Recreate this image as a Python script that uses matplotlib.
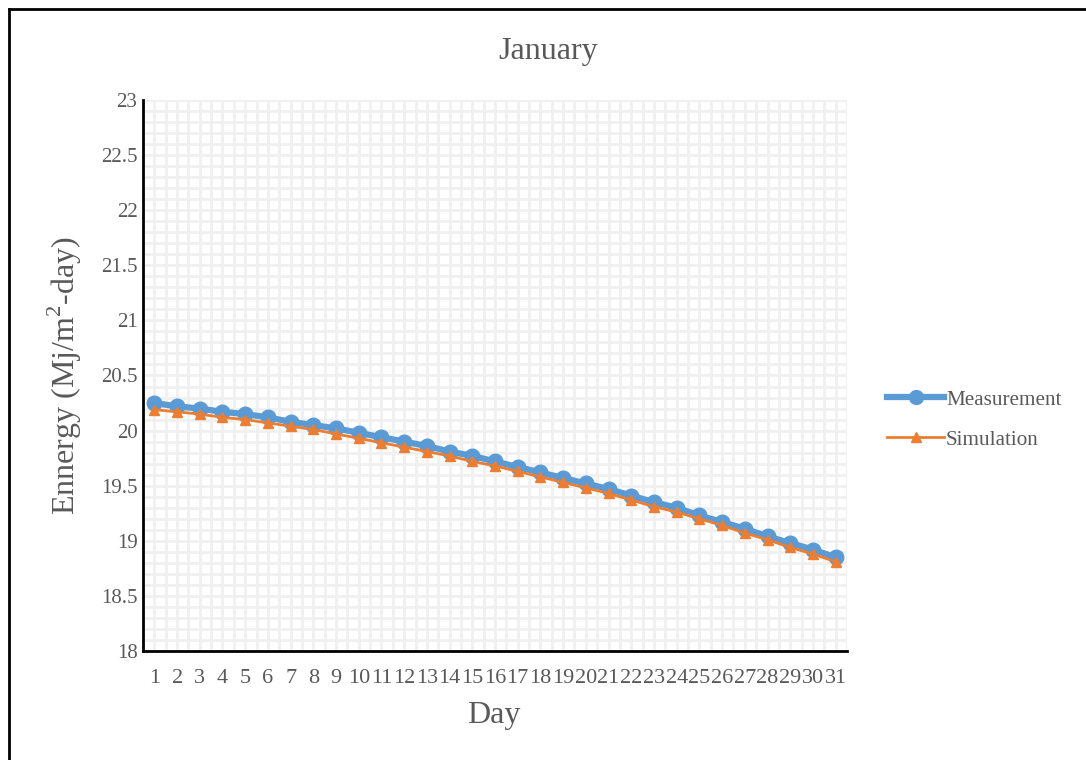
import matplotlib
matplotlib.use("Agg")
import matplotlib.pyplot as plt
from matplotlib.lines import Line2D
from matplotlib.ticker import MultipleLocator

plt.rcParams['font.family'] = ['Liberation Serif', 'DejaVu Serif']
plt.rcParams['mathtext.fontset'] = 'custom'
plt.rcParams['mathtext.rm'] = 'Liberation Serif'

days = list(range(1, 32))
day_labels = [str(d) for d in days]

measurement = [20.25, 20.22, 20.20, 20.17, 20.15, 20.12, 20.08, 20.05, 20.02, 19.98,
               19.94, 19.90, 19.86, 19.81, 19.77, 19.72, 19.67, 19.62, 19.57, 19.52,
               19.47, 19.41, 19.35, 19.30, 19.23, 19.17, 19.11, 19.04, 18.98, 18.92,
               18.85]
simulation = [20.19, 20.17, 20.15, 20.12, 20.10, 20.07, 20.04, 20.01, 19.97, 19.93,
              19.89, 19.85, 19.81, 19.77, 19.72, 19.68, 19.63, 19.58, 19.53, 19.48,
              19.43, 19.37, 19.31, 19.26, 19.20, 19.14, 19.07, 19.01, 18.94, 18.88,
              18.81]

y_ticks = [18, 18.5, 19, 19.5, 20, 20.5, 21, 21.5, 22, 22.5, 23]
y_tick_labels = ['18', '18.5', '19', '19.5', '20', '20.5', '21', '21.5', '22', '22.5', '23']

W, H = 1086, 760
fig = plt.figure(figsize=(W / 100, H / 100), dpi=100)
ax = fig.add_axes([143 / W, 1 - 651 / H, (847 - 143) / W, (651 - 100) / H])

blue = '#5b9bd5'
orange = '#ed7d31'
text_gray = '#595959'

ax.plot(days, measurement, color=blue, lw=4.5, marker='o', ms=10.5, zorder=3,
        solid_capstyle='round')
ax.plot(days, simulation, color=orange, lw=2, marker='^', ms=7.5, zorder=4)

ax.set_xlim(0.5, 31.5)
ax.set_ylim(18, 23)
ax.set_xticks(days)
ax.set_xticklabels(day_labels)
ax.set_yticks(y_ticks)
ax.set_yticklabels(y_tick_labels)

# light grid every 0.1 vertically and every half-day horizontally
ax.yaxis.set_minor_locator(MultipleLocator(0.1))
ax.xaxis.set_minor_locator(MultipleLocator(0.5))
ax.grid(which='both', color='#f0f0f0', lw=2, zorder=0)
ax.set_axisbelow(True)

for s in ('top', 'right'):
    ax.spines[s].set_visible(False)
for s in ('left', 'bottom'):
    ax.spines[s].set_color('black')
    ax.spines[s].set_linewidth(2)

ax.tick_params(which='both', length=0)
ax.tick_params(axis='x', labelsize=16, labelcolor=text_gray, pad=13)
ax.tick_params(axis='y', labelsize=15, labelcolor=text_gray, pad=4)

fig.text(494 / W, 1 - 716 / H, 'Day', fontsize=23, color=text_gray,
         ha='center', va='center')
fig.text(65 / W, 1 - 376 / H, r'Ennergy (Mj/m$^{\mathregular{2}}$-day)', fontsize=23,
         color=text_gray, rotation=90, ha='center', va='center')
fig.text(548 / W, 1 - 51 / H, 'January', fontsize=23, color=text_gray,
         ha='center', va='center')

handles = [Line2D([], [], color=blue, lw=4.5, marker='o', ms=10),
           Line2D([], [], color=orange, lw=2, marker='^', ms=7.5)]
fig.legend(handles, ['Measurement', 'Simulation'], loc='upper left',
           bbox_to_anchor=(887 / W, 1 - 390 / H), frameon=False,
           fontsize=15.2, labelcolor=text_gray, handlelength=2.7,
           handletextpad=0.1, labelspacing=0.95, borderpad=0, borderaxespad=0)

# outer frame along the left and top edges
fig.add_artist(Line2D([9 / W, 9 / W], [0, 1 - 9 / H], transform=fig.transFigure,
                      color='black', lw=2))
fig.add_artist(Line2D([9 / W, 1], [1 - 9 / H, 1 - 9 / H], transform=fig.transFigure,
                      color='black', lw=2))

fig.savefig('out.png', dpi=100)
